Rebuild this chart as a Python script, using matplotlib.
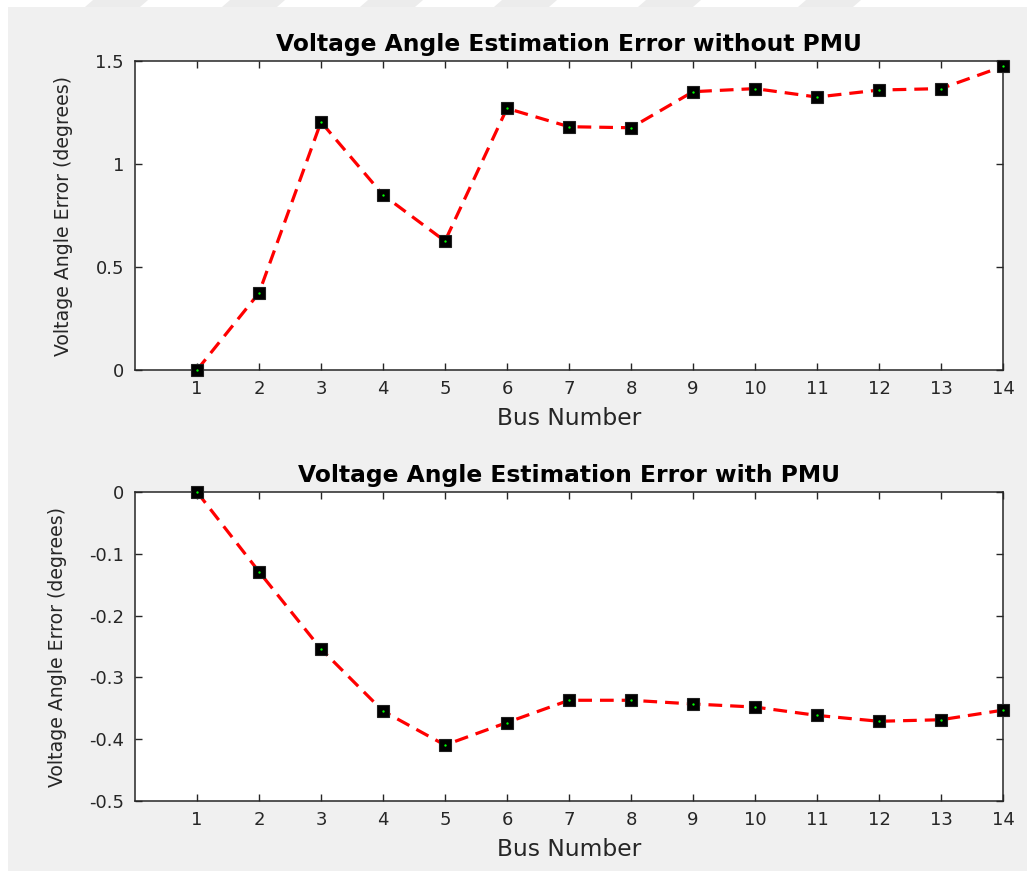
import matplotlib
matplotlib.use("Agg")
import matplotlib.pyplot as plt
from matplotlib.patches import Rectangle, Polygon

# ---- data ----
bus = [1, 2, 3, 4, 5, 6, 7, 8, 9, 10, 11, 12, 13, 14]
err_without_pmu = [0.0, 0.374, 1.204, 0.850, 0.626, 1.270, 1.181, 1.176,
                   1.351, 1.366, 1.325, 1.359, 1.366, 1.474]
err_with_pmu = [0.0, -0.129, -0.254, -0.3545, -0.4095, -0.373, -0.337, -0.337,
                -0.343, -0.348, -0.3615, -0.371, -0.3685, -0.353]
titles = ["Voltage Angle Estimation Error without PMU",
          "Voltage Angle Estimation Error with PMU"]
xlabel = "Bus Number"
ylabel = "Voltage Angle Error (degrees)"
top_yticks = [0, 0.5, 1, 1.5]
top_yticklabels = ["0", "0.5", "1", "1.5"]
bot_yticks = [0, -0.1, -0.2, -0.3, -0.4, -0.5]
bot_yticklabels = ["0", "-0.1", "-0.2", "-0.3", "-0.4", "-0.5"]

plt.rcParams['font.family'] = ['DejaVu Sans']
W, H = 1027, 871
fig = plt.figure(figsize=(W / 100, H / 100), dpi=100, facecolor="white")

# grey panel (MATLAB figure background) + faint watermark strip on top
fig.patches.append(Rectangle((8 / W, 0), 1 - 8 / W, 1 - 7 / H, transform=fig.transFigure,
                             facecolor="#f0f0f0", edgecolor="none", zorder=-10))
for cx in [115, 252, 390, 524, 668, 828]:
    pts = [((cx - 30) / W, 1 - 7 / H), ((cx + 25) / W, 1 - 7 / H),
           ((cx + 33) / W, 1.0), ((cx - 22) / W, 1.0)]
    fig.patches.append(Polygon(pts, closed=True, transform=fig.transFigure,
                               facecolor="#ececec", edgecolor="none", zorder=-10))

dark = "#262626"
left = 135 / W
width = (1003 - 135) / W
height = 309 / H
ax_top = fig.add_axes([left, 1 - 370 / H, width, height])
ax_bot = fig.add_axes([left, 1 - 801 / H, width, height])

specs = [
    (ax_top, err_without_pmu, (0, 1.5), top_yticks, top_yticklabels, titles[0]),
    (ax_bot, err_with_pmu, (-0.5, 0), bot_yticks, bot_yticklabels, titles[1]),
]

for ax, vals, ylim, yt, ytl, title in specs:
    ax.set_facecolor("white")
    ax.plot(bus, vals, color="red", lw=2.3, linestyle=(0, (4.3, 2.5)), zorder=2)
    ax.plot(bus, vals, linestyle="none", marker="s", markersize=8.5,
            markerfacecolor="black", markeredgecolor="#202020", markeredgewidth=0.8,
            zorder=5, clip_on=False)
    ax.plot(bus, vals, linestyle="none", marker="o", markersize=1.7,
            markerfacecolor="#00ff00", markeredgecolor="none", zorder=6, clip_on=False)
    ax.set_xlim(0, 14)
    ax.set_ylim(*ylim)
    ax.set_xticks(bus)
    ax.set_xticklabels([str(b) for b in bus])
    ax.set_yticks(yt)
    ax.set_yticklabels(ytl)
    for s in ax.spines.values():
        s.set_color(dark)
        s.set_linewidth(1.1)
    ax.tick_params(direction="in", length=5, width=1.0, color=dark,
                   labelcolor=dark, labelsize=13, top=True, right=True)
    ax.tick_params(axis="x", pad=7)
    ax.tick_params(axis="y", pad=8)
    ax.set_title(title, fontsize=16.8, fontweight="bold", color="black", pad=7)
    ax.set_xlabel(xlabel, fontsize=16.8, color=dark, labelpad=7)
    ax.set_ylabel(ylabel, fontsize=13.6, color=dark, labelpad=16)

fig.savefig("out.png", dpi=100, facecolor=fig.get_facecolor())
